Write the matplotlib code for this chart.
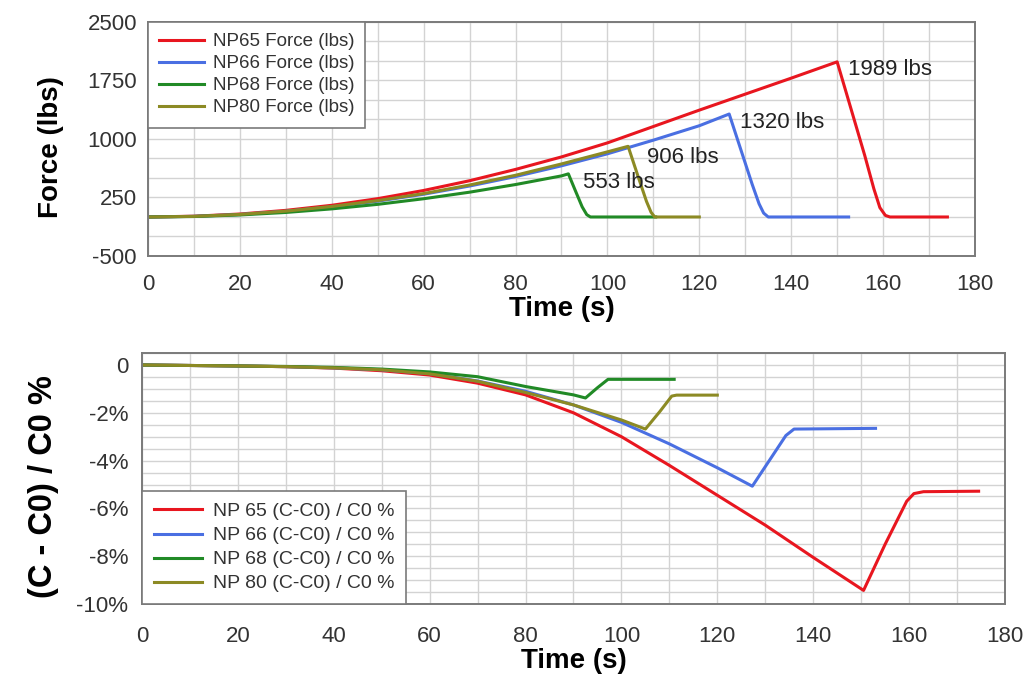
import matplotlib
matplotlib.use("Agg")
import matplotlib.pyplot as plt
import numpy as np

plt.rcParams['font.family'] = ['Liberation Sans', 'DejaVu Sans']
plt.rcParams['axes.unicode_minus'] = False

# --- force data (lbs) ---
np65_t = [0, 10, 20, 30, 40, 50, 60, 70, 80, 90, 100, 110, 120, 130, 140, 150,
          152, 154, 156, 158, 159.3, 160.5, 161.5, 174]
np65_f = [0, 10, 38, 85, 150, 235, 340, 465, 610, 770, 950, 1160, 1370, 1575, 1780, 1989,
          1590, 1190, 790, 360, 120, 20, 0, 0]
np66_t = [0, 10, 20, 30, 40, 50, 60, 70, 80, 90, 100, 110, 120, 126.5,
          129, 131.5, 133, 134, 135, 152.5]
np66_f = [0, 8, 32, 73, 130, 203, 292, 397, 518, 656, 810, 985, 1170, 1320,
          870, 420, 170, 50, 0, 0]
np68_t = [0, 10, 20, 30, 40, 50, 60, 70, 80, 90, 91.5, 93, 94.5, 95.5, 96.3, 110.5]
np68_f = [0, 6, 26, 58, 104, 162, 234, 318, 416, 527, 553, 340, 130, 30, 0, 0]
np80_t = [0, 10, 20, 30, 40, 50, 60, 70, 80, 90, 100, 104.5, 106.5, 108.5, 109.5, 110.3, 120]
np80_f = [0, 8, 33, 75, 135, 210, 300, 410, 535, 680, 835, 906, 550, 200, 60, 0, 0]

# --- (C-C0)/C0 data (%) ---
c65_t = [0, 10, 20, 30, 40, 50, 60, 70, 80, 90, 100, 110, 120, 130, 140, 150.5,
         155, 159.5, 161, 163, 174.5]
c65_p = [0, -0.02, -0.04, -0.07, -0.13, -0.24, -0.42, -0.76, -1.25, -2.0, -3.0, -4.2,
         -5.45, -6.7, -8.05, -9.43, -7.5, -5.7, -5.38, -5.3, -5.28]
c66_t = [0, 10, 20, 30, 40, 50, 60, 70, 80, 90, 100, 110, 120, 127.3,
         131, 134.3, 136, 153]
c66_p = [0, -0.02, -0.04, -0.07, -0.12, -0.2, -0.36, -0.67, -1.1, -1.67, -2.4, -3.3,
         -4.3, -5.07, -3.95, -2.95, -2.68, -2.65]
c68_t = [0, 10, 20, 30, 40, 50, 60, 70, 80, 90, 92.5, 95, 97.2, 111]
c68_p = [0, -0.02, -0.04, -0.06, -0.1, -0.17, -0.29, -0.49, -0.9, -1.25, -1.38, -0.95,
         -0.6, -0.6]
c80_t = [0, 10, 20, 30, 40, 50, 60, 70, 80, 90, 100, 105, 108, 110.5, 111.5, 120]
c80_p = [0, -0.02, -0.04, -0.07, -0.12, -0.2, -0.37, -0.68, -1.15, -1.67, -2.3, -2.68,
         -1.95, -1.3, -1.26, -1.26]

force_labels = ['NP65 Force (lbs)', 'NP66 Force (lbs)', 'NP68 Force (lbs)', 'NP80 Force (lbs)']
pct_labels = ['NP 65 (C-C0) / C0 %', 'NP 66 (C-C0) / C0 %', 'NP 68 (C-C0) / C0 %',
              'NP 80 (C-C0) / C0 %']
peak_texts = ['1989 lbs', '1320 lbs', '553 lbs', '906 lbs']
peak_pos = [(152.4, 1890), (128.9, 1215), (94.7, 440), (108.6, 760)]

x_ticks = list(range(0, 181, 20))
force_ticks = [-500, 250, 1000, 1750, 2500]
pct_ticks = [0, -2, -4, -6, -8, -10]
pct_ticklabels = ['0', '-2%', '-4%', '-6%', '-8%', '-10%']

colors = ['#e8161f', '#4a6fe2', '#218a26', '#8c8a24']
GRID = '#d3d3d3'
SPINE = '#7a7a7a'


def style_axes(ax):
    ax.grid(True, which='both', color=GRID, linewidth=1.0)
    ax.set_axisbelow(True)
    for s in ax.spines.values():
        s.set_color(SPINE)
        s.set_linewidth(1.4)
    ax.tick_params(which='both', length=0, labelsize=16, labelcolor='#333333')


fig = plt.figure(figsize=(10.35, 6.85), dpi=100)

# top: force vs time
ax1 = fig.add_axes([0.143, 0.6263, 0.799, 0.3416])
series = [(np65_t, np65_f), (np66_t, np66_f), (np68_t, np68_f), (np80_t, np80_f)]
for (t, f), c, lab in zip(series, colors, force_labels):
    ax1.plot(t, f, color=c, linewidth=2.2, label=lab)
ax1.set_xlim(0, 180)
ax1.set_ylim(-500, 2500)
ax1.set_xticks(x_ticks)
ax1.set_xticks(np.arange(0, 181, 10), minor=True)
ax1.set_yticks(force_ticks)
ax1.set_yticks(np.arange(-500, 2501, 250), minor=True)
style_axes(ax1)
ax1.tick_params(axis='x', pad=13)
ax1.tick_params(axis='y', pad=8)
for txt, (tx, ty) in zip(peak_texts, peak_pos):
    ax1.text(tx, ty, txt, fontsize=16, color='#222222', va='center', ha='left')
ax1.set_xlabel('Time (s)', fontsize=20, fontweight='bold')
ax1.set_ylabel('Force (lbs)', fontsize=20, fontweight='bold')
ax1.xaxis.set_label_coords(0.5, -0.172)
ax1.yaxis.set_label_coords(-0.101, 0.466)
leg1 = ax1.legend(loc='upper left', bbox_to_anchor=(0, 1), borderaxespad=0,
                  fontsize=13.5, fancybox=False, framealpha=1, edgecolor=SPINE,
                  handlelength=2.4, handletextpad=0.45, labelspacing=0.26,
                  borderpad=0.6)
leg1.get_frame().set_linewidth(1.2)
for t in leg1.get_texts():
    t.set_color('#333333')

# bottom: (C-C0)/C0 vs time
ax2 = fig.add_axes([0.1372, 0.1182, 0.8338, 0.3664])
series2 = [(c65_t, c65_p), (c66_t, c66_p), (c68_t, c68_p), (c80_t, c80_p)]
for (t, p), c, lab in zip(series2, colors, pct_labels):
    ax2.plot(t, p, color=c, linewidth=2.2, label=lab)
ax2.set_xlim(0, 180)
ax2.set_ylim(-10, 0.5)
ax2.set_xticks(x_ticks)
ax2.set_xticks(np.arange(0, 181, 10), minor=True)
ax2.set_yticks(pct_ticks)
ax2.set_yticklabels(pct_ticklabels)
ax2.set_yticks(np.arange(-10, 0.51, 0.5), minor=True)
style_axes(ax2)
ax2.tick_params(axis='x', pad=16)
ax2.tick_params(axis='y', pad=10)
ax2.set_xlabel('Time (s)', fontsize=20, fontweight='bold')
ax2.set_ylabel('(C - C0) / C0 %', fontsize=23.5, fontweight='bold')
ax2.xaxis.set_label_coords(0.5, -0.175)
ax2.yaxis.set_label_coords(-0.096, 0.47)
leg2 = ax2.legend(loc='lower left', bbox_to_anchor=(0, 0), borderaxespad=0,
                  fontsize=14, fancybox=False, framealpha=1, edgecolor=SPINE,
                  handlelength=2.5, handletextpad=0.55, labelspacing=0.33,
                  borderpad=0.6)
leg2.get_frame().set_linewidth(1.2)
for t in leg2.get_texts():
    t.set_color('#333333')

fig.savefig('out.png', dpi=100, facecolor='white')
